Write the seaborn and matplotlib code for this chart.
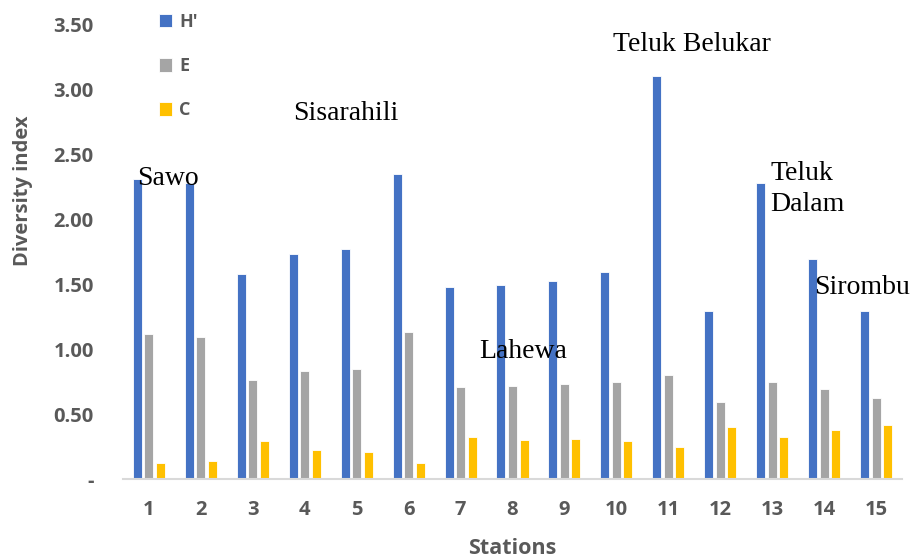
import pandas as pd
import matplotlib
matplotlib.use("Agg")
import matplotlib.pyplot as plt
import seaborn as sns
from matplotlib.ticker import FuncFormatter

# data
stations = [str(i) for i in range(1, 16)]
h_index = [2.31, 2.28, 1.58, 1.73, 1.77, 2.35, 1.48, 1.49, 1.52, 1.59, 3.10, 1.29, 2.28, 1.69, 1.29]
e_index = [1.115, 1.095, 0.76, 0.83, 0.85, 1.13, 0.71, 0.715, 0.73, 0.745, 0.80, 0.59, 0.745, 0.695, 0.625]
c_index = [0.12, 0.136, 0.29, 0.22, 0.21, 0.12, 0.325, 0.30, 0.31, 0.295, 0.25, 0.40, 0.325, 0.377, 0.415]
index_names = ["H'", "E", "C"]
colors = ["#4472C4", "#A5A5A5", "#FFC000"]

# place labels (station x, value y)
place_names = ["Sawo", "Sisarahili", "Lahewa", "Teluk Belukar", "Teluk\nDalam", "Sirombu"]
place_x = [-0.22, 2.77, 6.35, 8.93, 11.96, 12.8]
place_y = [2.26, 2.76, 0.93, 3.29, 2.06, 1.42]

df = pd.DataFrame({
    "Station": stations * 3,
    "Value": h_index + e_index + c_index,
    "Index": [index_names[0]] * 15 + [index_names[1]] * 15 + [index_names[2]] * 15,
})

sns.set_style("white")
plt.rcParams['font.family'] = ['Open Sans', 'DejaVu Sans']
grey = "#595959"

fig = plt.figure(figsize=(9.15, 5.6), dpi=100)
ax = fig.add_axes([0.1344, 0.1446, 0.8514, 0.8124])

sns.barplot(data=df, x="Station", y="Value", hue="Index", palette=colors, saturation=1,
            width=0.667, gap=0.22, edgecolor="white", linewidth=0.6, ax=ax)

ax.set_xlim(-0.5, 14.5)
ax.set_ylim(0, 3.5)
ax.set_yticks([0, 0.5, 1.0, 1.5, 2.0, 2.5, 3.0, 3.5])
ax.yaxis.set_major_formatter(FuncFormatter(lambda v, p: "-" if v == 0 else f"{v:.2f}"))

for s in ["top", "right", "left"]:
    ax.spines[s].set_visible(False)
ax.spines["bottom"].set_color("#D9D9D9")
ax.spines["bottom"].set_linewidth(1.5)

ax.tick_params(axis="both", length=0, labelsize=14.5, labelcolor=grey)
ax.tick_params(axis="x", pad=15)
ax.tick_params(axis="y", pad=21)
for lab in ax.get_xticklabels() + ax.get_yticklabels():
    lab.set_fontweight("bold")

ax.set_xlabel("Stations", fontsize=15.5, fontweight="bold", color=grey, labelpad=13)
ax.set_ylabel("Diversity index", fontsize=14.5, fontweight="bold", color=grey)
ax.yaxis.set_label_coords(-0.1155, 0.634)

handles, labels = ax.get_legend_handles_labels()
leg = ax.legend(handles, labels, loc="upper left", bbox_to_anchor=(0.025, 1.06),
                frameon=False, fontsize=13, handlelength=0.75, handleheight=0.75,
                handletextpad=0.4, labelspacing=1.45)
for t in leg.get_texts():
    t.set_color(grey)
    t.set_fontweight("bold")

for name, x, y in zip(place_names, place_x, place_y):
    ax.text(x, y, name, fontsize=20, family="Liberation Serif", color="black",
            ha="left", va="baseline", linespacing=1.35)

fig.savefig("out.png", dpi=100)
